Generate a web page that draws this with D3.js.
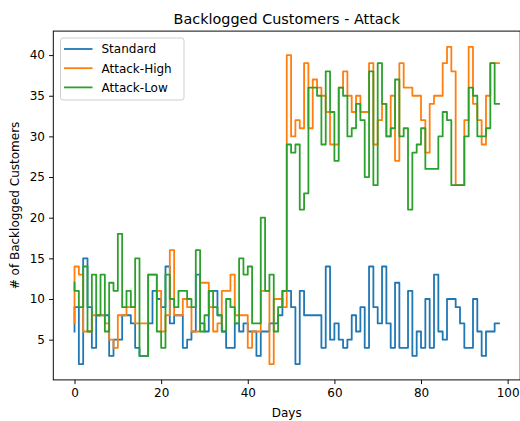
<!DOCTYPE html>
<html>
<head>
<meta charset="utf-8">
<script src="https://cdn.jsdelivr.net/npm/d3@7"></script>
<style>
  body { margin: 0; background: #fff; }
  text { font-family: "DejaVu Sans", sans-serif; fill: #000; }
</style>
</head>
<body>
<div id="chart"></div>
<script>
// day index 0..98
var days = d3.range(0, 99);

var standard = [6,
  9,2,15,9,4,8,8,8,3,5,
  5,8,8,7,4,3,3,7,11,10,
  9,14,7,8,8,4,5,6,13,7,
  6,11,11,8,6,4,4,7,6,7,
  6,6,3,6,6,7,7,8,11,11,
  9,2,11,8,8,8,8,4,14,5,
  7,5,4,5,8,6,9,4,14,9,
  7,14,7,4,12,4,4,11,3,6,
  4,10,4,13,6,5,10,10,9,7,
  4,4,10,6,3,6,6,7];

var attackHigh = [7,
  14,13,6,6,8,8,8,7,5,4,
  8,8,9,9,7,7,7,13,13,11,
  6,8,16,8,8,10,9,6,6,12,
  12,9,6,7,11,11,13,8,8,8,
  4,6,6,11,11,2,10,10,9,40,
  30,32,31,39,31,37,36,35,33,29,
  29,36,38,35,33,35,33,33,39,29,
  32,34,30,35,27,39,36,36,35,35,
  32,28,34,35,35,39,41,38,24,24,
  32,41,34,32,29,35,39,39];

var attackLow = [12,
  11,9,14,6,13,8,13,6,12,11,
  18,9,11,9,15,3,3,13,13,6,
  4,13,10,9,11,11,10,9,16,6,
  8,11,9,8,6,10,9,7,15,13,
  14,7,7,20,11,13,6,9,11,29,
  28,29,21,23,36,36,35,29,38,33,
  27,36,35,30,31,34,32,25,38,24,
  39,34,30,31,37,30,31,21,28,29,
  31,26,26,26,30,33,32,24,24,24,
  30,36,35,30,30,31,39,34];

var seriesNames = ["Standard", "Attack-High", "Attack-Low"];
var seriesColors = ["#1f77b4", "#ff7f0e", "#2ca02c"];
var xTicks = [0, 20, 40, 60, 80, 100];
var yTicks = [5, 10, 15, 20, 25, 30, 35, 40];

var W = 520, H = 421;
var pLeft = 53.3, pRight = 520.2, pTop = 31.1, pBottom = 379.9;

var svg = d3.select("#chart").append("svg")
  .attr("width", W)
  .attr("height", H);

var x = d3.scaleLinear().domain([-4.9, 102.9]).range([pLeft, pRight]);
var y = d3.scaleLinear().domain([0.05, 42.95]).range([pBottom, pTop]);

// title
svg.append("text")
  .attr("x", (pLeft + pRight) / 2)
  .attr("y", 23.5)
  .attr("text-anchor", "middle")
  .style("font-size", "14.4px")
  .text("Backlogged Customers - Attack");

// lines
var allSeries = [standard, attackHigh, attackLow];
var line = d3.line()
  .x(function(d, i) { return x(days[i]); })
  .y(function(d) { return y(d); })
  .curve(d3.curveStepBefore);

svg.append("defs").append("clipPath").attr("id", "clip")
  .append("rect")
  .attr("x", pLeft).attr("y", pTop)
  .attr("width", pRight - pLeft).attr("height", pBottom - pTop);

var g = svg.append("g").attr("clip-path", "url(#clip)");
allSeries.forEach(function(s, k) {
  g.append("path")
    .datum(s)
    .attr("d", line)
    .attr("fill", "none")
    .attr("stroke", seriesColors[k])
    .attr("stroke-width", 1.8)
    .attr("stroke-linejoin", "round")
    .attr("stroke-linecap", "square");
});

// axes
var xAxis = svg.append("g")
  .attr("transform", "translate(0," + pBottom + ")")
  .call(d3.axisBottom(x).tickValues(xTicks).tickSize(4.2).tickPadding(4.2).tickFormat(d3.format("d")));
var yAxis = svg.append("g")
  .attr("transform", "translate(" + pLeft + ",0)")
  .call(d3.axisLeft(y).tickValues(yTicks).tickSize(4.2).tickPadding(4.2).tickFormat(d3.format("d")));

[xAxis, yAxis].forEach(function(a) {
  a.select(".domain").remove();
  a.selectAll(".tick line").attr("stroke", "#000").attr("stroke-width", 0.96);
  a.selectAll(".tick text")
    .style("font-size", "12px")
    .style("font-family", "DejaVu Sans, sans-serif")
    .attr("fill", "#000");
});

// frame
svg.append("rect")
  .attr("x", pLeft).attr("y", pTop)
  .attr("width", pRight - pLeft).attr("height", pBottom - pTop)
  .attr("fill", "none")
  .attr("stroke", "#000")
  .attr("stroke-width", 0.96);

// axis labels
svg.append("text")
  .attr("x", (pLeft + pRight) / 2)
  .attr("y", 417)
  .attr("text-anchor", "middle")
  .style("font-size", "12px")
  .text("Days");

svg.append("text")
  .attr("transform", "translate(19," + ((pTop + pBottom) / 2) + ") rotate(-90)")
  .attr("text-anchor", "middle")
  .style("font-size", "12px")
  .text("# of Backlogged Customers");

// legend
var legend = svg.append("g");
legend.append("rect")
  .attr("x", 60.5).attr("y", 38)
  .attr("width", 123.5).attr("height", 62)
  .attr("rx", 2.5)
  .attr("fill", "#fff")
  .attr("fill-opacity", 0.8)
  .attr("stroke", "#cccccc")
  .attr("stroke-width", 0.96);

seriesNames.forEach(function(name, k) {
  var ly = 49 + k * 19.2;
  legend.append("line")
    .attr("x1", 64).attr("x2", 92.5)
    .attr("y1", ly).attr("y2", ly)
    .attr("stroke", seriesColors[k])
    .attr("stroke-width", 1.8);
  legend.append("text")
    .attr("x", 101.5)
    .attr("y", ly + 4.3)
    .style("font-size", "12px")
    .text(name);
});
</script>
</body>
</html>
